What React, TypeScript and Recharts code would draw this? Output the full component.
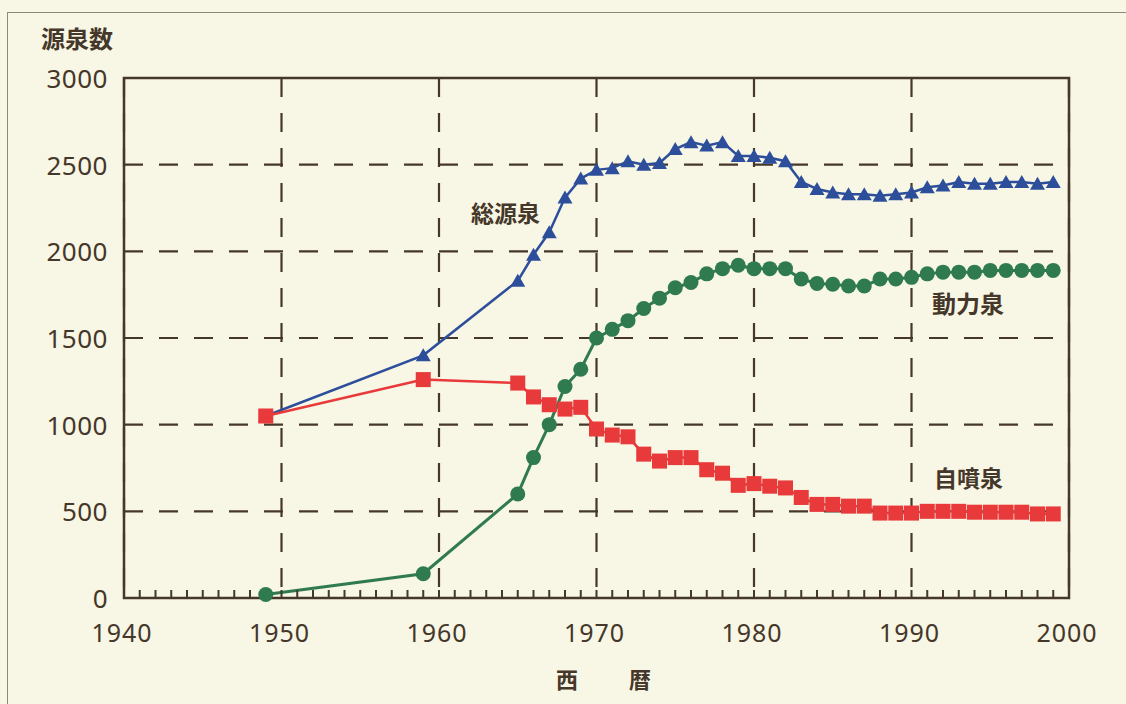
import { LineChart, Line, XAxis, YAxis, CartesianGrid, ReferenceArea } from "recharts";

// Hot spring source counts by year
const YEARS = [
  1949, 1959, 1965, 1966, 1967, 1968, 1969, 1970, 1971, 1972, 1973, 1974,
  1975, 1976, 1977, 1978, 1979, 1980, 1981, 1982, 1983, 1984, 1985, 1986,
  1987, 1988, 1989, 1990, 1991, 1992, 1993, 1994, 1995, 1996, 1997, 1998, 1999,
];
// 総源泉
const TOTAL = [
  1050, 1400, 1830, 1980, 2110, 2310, 2420, 2470, 2480, 2520, 2500, 2510,
  2590, 2630, 2610, 2630, 2550, 2550, 2540, 2520, 2400, 2360, 2340, 2330,
  2330, 2320, 2330, 2340, 2370, 2380, 2400, 2390, 2390, 2400, 2400, 2390, 2400,
];
// 自噴泉
const NATURAL = [
  1050, 1260, 1240, 1160, 1115, 1090, 1100, 975, 940, 930, 830, 790,
  810, 810, 740, 720, 650, 660, 645, 635, 580, 540, 540, 530,
  530, 490, 490, 490, 500, 500, 500, 495, 495, 495, 495, 485, 485,
];
// 動力泉
const PUMPED = [
  20, 140, 600, 810, 1000, 1220, 1320, 1500, 1550, 1600, 1670, 1730,
  1790, 1820, 1870, 1900, 1920, 1900, 1900, 1900, 1840, 1815, 1810, 1800,
  1800, 1840, 1840, 1850, 1870, 1880, 1880, 1880, 1890, 1890, 1890, 1890, 1890,
];

const X_TICKS = [1940, 1950, 1960, 1970, 1980, 1990, 2000];
const Y_TICKS = [0, 500, 1000, 1500, 2000, 2500, 3000];
const X_MINOR = Array.from({ length: 61 }, (_, i) => 1940 + i);
const Y_MINOR = Array.from({ length: 31 }, (_, i) => i * 100);

const INK = "#45372a";
const BG = "#f8f6e4";
const BLUE = "#2d4f9b";
const RED = "#e8393b";
const GREEN = "#2f7b4f";

const data = YEARS.map((year, i) => ({
  year,
  total: TOTAL[i],
  natural: NATURAL[i],
  pumped: PUMPED[i],
}));

const TriangleDot = (props: any) => {
  const { cx, cy } = props;
  if (cx == null || cy == null) return null;
  return (
    <path
      d={`M${cx},${cy - 7} L${cx + 7.5},${cy + 6} L${cx - 7.5},${cy + 6} Z`}
      fill={BLUE}
    />
  );
};

const SquareDot = (props: any) => {
  const { cx, cy } = props;
  if (cx == null || cy == null) return null;
  return <rect x={cx - 7.5} y={cy - 7.5} width={15} height={15} fill={RED} />;
};

const CircleDot = (props: any) => {
  const { cx, cy } = props;
  if (cx == null || cy == null) return null;
  return <circle cx={cx} cy={cy} r={7.5} fill={GREEN} />;
};

const XTick = ({ x, y, payload }: any) => (
  <text x={x - 2} y={y} dy={44} textAnchor="middle" fill={INK} fontSize={25} fontFamily="Noto Sans" letterSpacing={1}>
    {payload.value}
  </text>
);

const YTick = ({ x, y, payload }: any) => (
  <text x={x} y={y} dy={10} textAnchor="end" fill={INK} fontSize={26} fontFamily="Noto Sans" letterSpacing={0.5}>
    {payload.value}
  </text>
);

const NoTick = () => <g />;

const labelStyle = (left: number, top: number, size: number): React.CSSProperties => ({
  position: "absolute",
  left,
  top,
  fontSize: size,
  lineHeight: 1,
  fontWeight: 700,
  color: INK,
  fontFamily: "'Noto Sans CJK JP', sans-serif",
  whiteSpace: "nowrap",
});

export default function App() {
  return (
    <div
      style={{
        position: "absolute",
        left: 0,
        top: 0,
        width: 1126,
        height: 704,
        background: BG,
        overflow: "hidden",
      }}
    >
      {/* scanned page frame */}
      <div
        style={{
          position: "absolute",
          left: 7,
          top: 12,
          width: 1140,
          height: 720,
          borderLeft: "1.5px solid #8f877b",
          borderTop: "1.5px solid #8f877b",
        }}
      />
      <div style={{ position: "absolute", left: 0, top: 0 }}>
        <LineChart
          width={1126}
          height={704}
          data={data}
          margin={{ top: 78, right: 57, bottom: 66, left: 24 }}
        >
          <CartesianGrid stroke={INK} strokeWidth={2.2} strokeDasharray="19 16" />
          <XAxis
            dataKey="year"
            type="number"
            domain={[1940, 2000]}
            ticks={X_TICKS}
            interval={0}
            tickLine={false}
            axisLine={false}
            tickSize={0}
            tickMargin={0}
            height={40}
            tick={<XTick />}
          />
          <XAxis
            xAxisId="minor"
            dataKey="year"
            type="number"
            domain={[1940, 2000]}
            ticks={X_MINOR}
            interval={0}
            mirror
            tickSize={8}
            tickLine={{ stroke: INK, strokeWidth: 2 }}
            axisLine={false}
            tick={<NoTick />}
          />
          <YAxis
            type="number"
            domain={[0, 3000]}
            ticks={Y_TICKS}
            interval={0}
            width={100}
            tickLine={false}
            axisLine={false}
            tickSize={0}
            tickMargin={16}
            tick={<YTick />}
          />
          <YAxis
            yAxisId="minor"
            type="number"
            domain={[0, 3000]}
            ticks={Y_MINOR}
            interval={0}
            mirror
            tickSize={8}
            tickLine={{ stroke: INK, strokeWidth: 2 }}
            axisLine={false}
            tick={<NoTick />}
          />
          <ReferenceArea
            x1={1940}
            x2={2000}
            y1={0}
            y2={3000}
            fill="none"
            stroke={INK}
            strokeWidth={2.5}
          />
          <Line
            dataKey="total"
            stroke={BLUE}
            strokeWidth={2.5}
            dot={TriangleDot}
            activeDot={false}
            isAnimationActive={false}
          />
          <Line
            dataKey="natural"
            stroke={RED}
            strokeWidth={2.5}
            dot={SquareDot}
            activeDot={false}
            isAnimationActive={false}
          />
          <Line
            dataKey="pumped"
            stroke={GREEN}
            strokeWidth={3}
            dot={CircleDot}
            activeDot={false}
            isAnimationActive={false}
          />
        </LineChart>
      </div>
      <div style={labelStyle(41, 26, 24)}>源泉数</div>
      <div style={labelStyle(471, 201, 23)}>総源泉</div>
      <div style={labelStyle(932, 291, 24)}>動力泉</div>
      <div style={labelStyle(934, 466, 23)}>自噴泉</div>
      <div style={labelStyle(556, 667, 22)}>西</div>
      <div style={labelStyle(629, 667, 22)}>暦</div>
    </div>
  );
}
